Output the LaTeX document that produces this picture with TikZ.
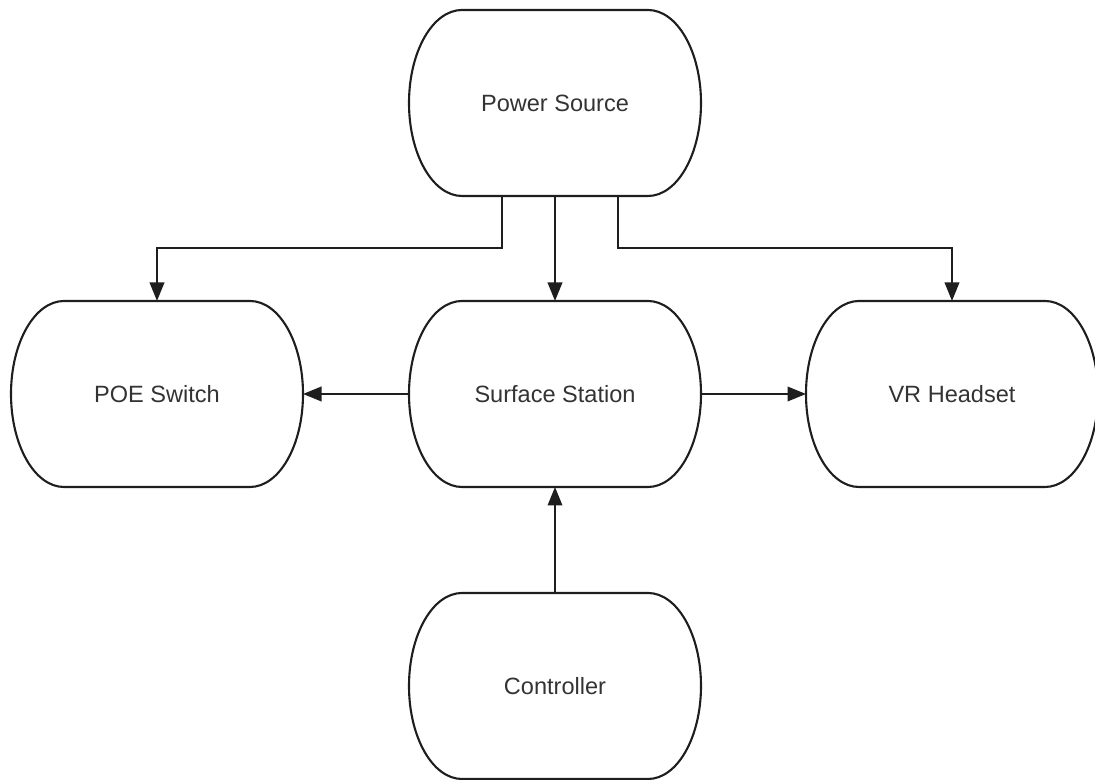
\documentclass[tikz,border=0pt]{standalone}
\usepackage{fontspec}
\setmainfont{Liberation Sans}
\usepackage{tikz}
\usetikzlibrary{arrows.meta,positioning,calc}
\definecolor{ink}{HTML}{1E1E1E}
\definecolor{label}{HTML}{333333}

\begin{document}
\begin{tikzpicture}[
  blk/.style={minimum width=5.84cm,minimum height=3.72cm,outer sep=0pt,inner sep=0pt,font=\fontsize{13.4}{16}\selectfont,text=label},
  arr/.style={-{Triangle[length=0.37cm,width=0.29cm]},line width=1.2pt,draw=ink},
]
  \useasboundingbox (0,0) rectangle (21.9,15.6);

  \node[blk] (pwr) at (11.1,13.54) {Power Source};
  \node[blk] (poe) at (3.14,7.72) {POE Switch};
  \node[blk] (surf) at (11.1,7.72) {Surface Station};
  \node[blk] (vr) at (19.04,7.72) {VR Headset};
  \node[blk] (ctrl) at (11.1,1.88) {Controller};

  % Outlines
  \foreach \n in {pwr,poe,surf,vr,ctrl}
    \draw[ink,line width=1.2pt] ($(\n.north west)+(1.06,0)$) -- ($(\n.north east)+(-1.06,0)$)
      arc[start angle=90,end angle=-90,x radius=1.06,y radius=1.86]
      -- ($(\n.south west)+(1.06,0)$)
      arc[start angle=270,end angle=90,x radius=1.06,y radius=1.86] -- cycle;

  \draw[arr] ([xshift=-1.06cm]pwr.south) -- ++(0,-1.04) -| (poe.north);
  \draw[arr] (pwr.south) -- (surf.north);
  \draw[arr] ([xshift=1.26cm]pwr.south) -- ++(0,-1.04) -| (vr.north);
  \draw[arr] (surf.west) -- (poe.east);
  \draw[arr] (surf.east) -- (vr.west);
  \draw[arr] (ctrl.north) -- (surf.south);
\end{tikzpicture}
\end{document}
